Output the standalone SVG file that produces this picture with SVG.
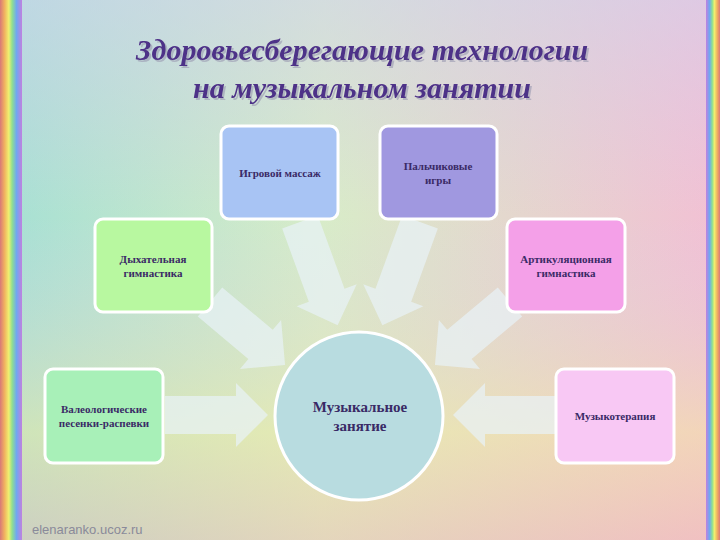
<svg xmlns="http://www.w3.org/2000/svg" width="720" height="540" viewBox="0 0 720 540">
<defs>
<linearGradient id="bg1" x1="0" y1="0" x2="1" y2="0"><stop offset="0" stop-color="#a6e0d4"/><stop offset="0.45" stop-color="#d8ecc8"/><stop offset="1" stop-color="#f2c0d4"/></linearGradient>
<linearGradient id="bg2" x1="0" y1="0" x2="0" y2="1"><stop offset="0" stop-color="#d0d0f0" stop-opacity="0.55"/><stop offset="0.4" stop-color="#d8c8f0" stop-opacity="0"/><stop offset="0.8" stop-color="#f4e8a0" stop-opacity="0.5"/><stop offset="1" stop-color="#f0c0b0" stop-opacity="0.5"/></linearGradient>
<linearGradient id="rb" x1="0" y1="0" x2="1" y2="0"><stop offset="0" stop-color="#d87878"/><stop offset="0.2" stop-color="#f0b060"/><stop offset="0.4" stop-color="#f0f070"/><stop offset="0.55" stop-color="#90e090"/><stop offset="0.75" stop-color="#70a8f0"/><stop offset="1" stop-color="#c080e0"/></linearGradient>
<linearGradient id="rb2" x1="1" y1="0" x2="0" y2="0"><stop offset="0" stop-color="#d87878"/><stop offset="0.2" stop-color="#f0b060"/><stop offset="0.4" stop-color="#f0f070"/><stop offset="0.55" stop-color="#90e090"/><stop offset="0.75" stop-color="#70a8f0"/><stop offset="1" stop-color="#c080e0"/></linearGradient>
<filter id="ds" x="-10%" y="-30%" width="120%" height="160%"><feDropShadow dx="2" dy="2" stdDeviation="0.6" flood-color="#9a9ab0" flood-opacity="0.6"/></filter>
</defs>
<style>
.n{stroke:#ffffff;stroke-width:3}
.t{font-family:"Liberation Serif",serif;font-weight:bold;font-size:11px;fill:#3a2a66;text-anchor:middle}
.a{fill:#e8f2f8;fill-opacity:0.7}
.title{font-family:"Liberation Serif",serif;font-weight:bold;font-style:italic;font-size:30px;fill:#4e3088;text-anchor:middle;filter:url(#ds)}
</style>
<rect width="720" height="540" fill="url(#bg1)"/>
<rect width="720" height="540" fill="url(#bg2)"/>
<rect x="0" y="0" width="22" height="540" fill="url(#rb)"/>
<rect x="706" y="0" width="14" height="540" fill="url(#rb2)"/>
<text class="title" x="362" y="60">Здоровьесберегающие технологии</text>
<text class="title" x="362" y="98">на музыкальном занятии</text>
<g id="connectors">
<path class="a" transform="translate(165,415)" d="M0,-19H71V-32L103,0L71,32V19H0Z"/>
<path class="a" transform="translate(210,302) rotate(40)" d="M0,-19H66V-32L98,0L66,32V19H0Z"/>
<path class="a" transform="translate(300,222) rotate(70)" d="M0,-19H78V-32L110,0L78,32V19H0Z"/>
<path class="a" transform="translate(420,222) rotate(110)" d="M0,-19H78V-32L110,0L78,32V19H0Z"/>
<path class="a" transform="translate(510,302) rotate(140)" d="M0,-19H66V-32L98,0L66,32V19H0Z"/>
<path class="a" transform="translate(556,415) rotate(180)" d="M0,-19H71V-32L103,0L71,32V19H0Z"/>
</g>
<g id="n1"><rect class="n" x="45" y="369" width="118" height="94" rx="8" fill="#a8f0b8"/><text class="t" x="104" y="413">Валеологические</text><text class="t" x="104" y="427">песенки-распевки</text></g>
<g id="n2"><rect class="n" x="95" y="219" width="117" height="93" rx="8" fill="#b8f8a0"/><text class="t" x="153" y="263">Дыхательная</text><text class="t" x="153" y="277">гимнастика</text></g>
<g id="n3"><rect class="n" x="221" y="126" width="117" height="93" rx="8" fill="#a8c4f4"/><text class="t" x="280" y="177">Игровой массаж</text></g>
<g id="n4"><rect class="n" x="380" y="126" width="117" height="93" rx="8" fill="#a098e0"/><text class="t" x="438" y="170">Пальчиковые</text><text class="t" x="438" y="184">игры</text></g>
<g id="n5"><rect class="n" x="507" y="219" width="118" height="93" rx="8" fill="#f4a0e8"/><text class="t" x="566" y="263">Артикуляционная</text><text class="t" x="566" y="277">гимнастика</text></g>
<g id="n6"><rect class="n" x="556" y="369" width="118" height="94" rx="8" fill="#f8c8f4"/><text class="t" x="615" y="420">Музыкотерапия</text></g>
<g id="center"><circle class="n" cx="359" cy="416" r="84" fill="#b8dce0"/><text class="t" style="font-size:15px" x="360" y="412">Музыкальное</text><text class="t" style="font-size:15px" x="360" y="431">занятие</text></g>
<text x="32" y="534" font-family="Liberation Sans,sans-serif" font-size="13" fill="#8a8a9a">elenaranko.ucoz.ru</text>
</svg>
